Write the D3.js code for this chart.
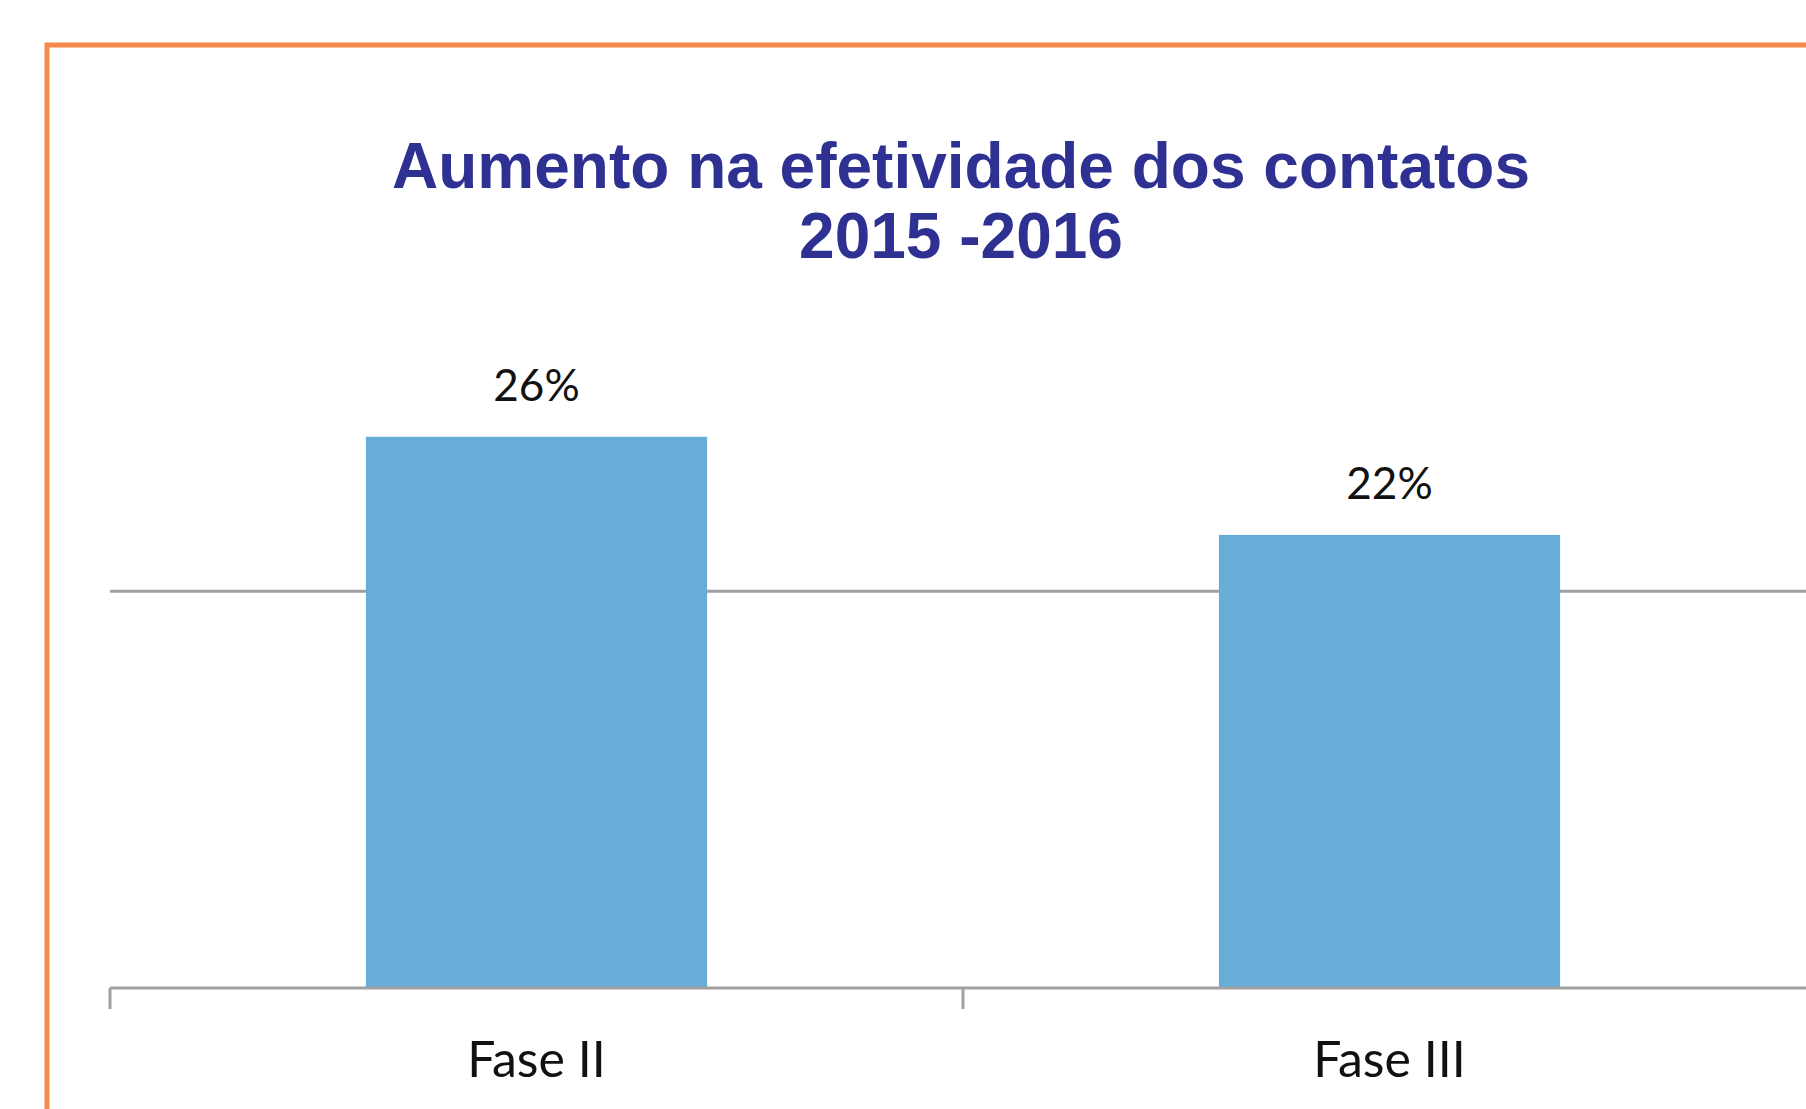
<!DOCTYPE html>
<html>
<head>
<meta charset="utf-8">
<script src="https://cdn.jsdelivr.net/npm/d3@7"></script>
<style>
  html, body { margin: 0; padding: 0; background: #ffffff; overflow: hidden; }
  svg { display: block; }
</style>
</head>
<body>
<svg id="chart" width="1806" height="1109"></svg>
<script>
// ---- Data ----
const titleLines = ["Aumento na efetividade dos contatos", "2015 -2016"];
const categories = ["Fase II", "Fase III"];
const values = [0.264, 0.217];
const gridValues = [0.19];

// ---- Layout ----
const W = 1806, H = 1109;
const svg = d3.select("#chart");

const baseY = 988;
const x = d3.scaleBand()
  .domain(categories)
  .range([110, 1816])
  .paddingInner(0.6)
  .paddingOuter(0.3);

const y = d3.scaleLinear()
  .domain([0, 0.3])
  .range([baseY, baseY - 0.3 * 2088]);

// orange frame
svg.append("rect")
  .attr("x", 47).attr("y", 45)
  .attr("width", 2000).attr("height", 2000)
  .attr("fill", "none")
  .attr("stroke", "#F7874B")
  .attr("stroke-width", 5);

// title
const title = svg.append("text")
  .attr("text-anchor", "middle")
  .attr("font-family", "'Liberation Sans', Arial, sans-serif")
  .attr("font-weight", "bold")
  .attr("font-size", 64)
  .attr("fill", "#2E3192");
title.selectAll("tspan").data(titleLines).join("tspan")
  .attr("x", 961)
  .attr("y", (d, i) => 188 + i * 70)
  .text(d => d);

// gridlines
svg.append("g").selectAll("line").data(gridValues).join("line")
  .attr("x1", 110).attr("x2", W)
  .attr("y1", d => y(d)).attr("y2", d => y(d))
  .attr("stroke", "#A0A0A0")
  .attr("stroke-width", 3);

// bars
svg.append("g").selectAll("rect").data(categories).join("rect")
  .attr("x", d => x(d))
  .attr("width", x.bandwidth())
  .attr("y", (d, i) => y(values[i]))
  .attr("height", (d, i) => baseY - y(values[i]))
  .attr("fill", "#66ADD8");

// x axis
const step = x.step();
const gap = step - x.bandwidth();
const boundaries = categories.map(c => x(c) - gap / 2);
boundaries.push(x(categories[categories.length - 1]) + x.bandwidth() + gap / 2);

const axisG = svg.append("g");
axisG.append("line")
  .attr("x1", 110).attr("x2", W)
  .attr("y1", baseY).attr("y2", baseY)
  .attr("stroke", "#A0A0A0").attr("stroke-width", 3);
axisG.selectAll("line.tick").data(boundaries).join("line")
  .attr("class", "tick")
  .attr("x1", d => d).attr("x2", d => d)
  .attr("y1", baseY).attr("y2", baseY + 21)
  .attr("stroke", "#A0A0A0").attr("stroke-width", 3);

// category labels
svg.append("g").selectAll("text").data(categories).join("text")
  .attr("x", d => x(d) + x.bandwidth() / 2)
  .attr("y", baseY + 89)
  .attr("text-anchor", "middle")
  .attr("font-family", "Lato, 'Open Sans', sans-serif")
  .attr("font-size", 50)
  .attr("fill", "#111")
  .text(d => d);

// value labels
const fmt = d3.format(".0%");
svg.append("g").selectAll("text").data(categories).join("text")
  .attr("x", d => x(d) + x.bandwidth() / 2)
  .attr("y", (d, i) => y(values[i]) - 36)
  .attr("text-anchor", "middle")
  .attr("font-family", "Lato, 'Open Sans', sans-serif")
  .attr("font-size", 44)
  .attr("fill", "#111")
  .text((d, i) => fmt(values[i]));
</script>
</body>
</html>
